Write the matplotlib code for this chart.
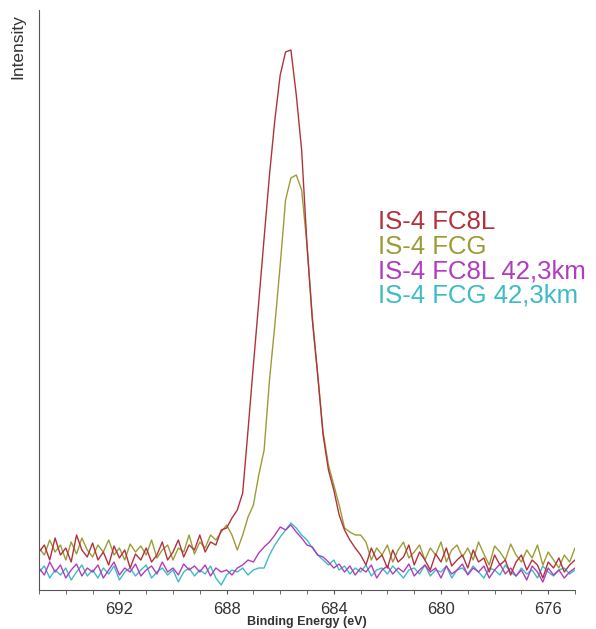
import numpy as np
import matplotlib
matplotlib.use('Agg')
import matplotlib.pyplot as plt
from matplotlib.ticker import MultipleLocator

plt.rcParams['font.family'] = ['Liberation Sans', 'DejaVu Sans']

# binding energy axis, 695 -> 675 eV in 0.2 eV steps (101 points)
energy = np.linspace(695, 675, 101)

# intensities (arbitrary units)
fc8l = [38, 45, 30, 52, 35, 42, 28, 55, 40, 33,
        47, 30, 38, 25, 44, 32, 40, 22, 36, 30,
        42, 28, 35, 48, 30, 38, 50, 33, 45, 40,
        55, 38, 48, 45, 60, 62, 72, 80, 97, 160,
        225, 288, 352, 415, 470, 515, 538, 540, 495, 440,
        345, 270, 215, 155, 120, 100, 75, 60, 50, 42,
        35, 25, 42, 30, 35, 22, 40, 28, 33, 45,
        25, 38, 30, 20, 36, 28, 42, 24, 30, 35,
        22, 40, 28, 32, 18, 35, 25, 30, 15, 28,
        35, 20, 30, 25, 12, 28, 22, 32, 18, 25, 30]

fcg = [42, 35, 50, 38, 45, 30, 48, 36, 52, 40,
       33, 45, 38, 50, 35, 42, 30, 46, 38, 44,
       35, 50, 32, 40, 45, 30, 42, 38, 55, 36,
       48, 42, 55, 50, 58, 65, 55, 40, 55, 73,
       85, 115, 140, 210, 265, 325, 390, 412, 415, 400,
       345, 272, 215, 158, 125, 105, 85, 62, 58, 55,
       55, 48, 30, 42, 35, 45, 28, 40, 48, 32,
       38, 45, 30, 42, 35, 48, 28, 40, 45, 33,
       42, 30, 48, 36, 25, 44, 38, 30, 46, 35,
       28, 40, 32, 45, 25, 38, 30, 22, 35, 28, 42]

fc8l_km = [22, 15, 28, 18, 25, 12, 20, 26, 14, 22,
           18, 25, 12, 20, 28, 15, 22, 18, 26, 14,
           20, 24, 16, 28, 18, 22, 15, 26, 20, 24,
           18, 25, 14, 22, 18, 20, 15, 22, 25, 30,
           28, 37, 43, 48, 55, 63, 60, 65, 58, 52,
           45, 43, 35, 33, 28, 22, 26, 18, 24, 15,
           22, 18, 25, 12, 20, 24, 16, 22, 18, 26,
           14, 20, 25, 18, 22, 12, 24, 16, 20, 26,
           15, 22, 18, 24, 12, 20, 26, 16, 22, 14,
           20, 10, 24, 18, 8, 22, 15, 20, 12, 18, 22]

fcg_km = [18, 24, 12, 20, 15, 22, 10, 18, 25, 14,
          20, 12, 22, 16, 24, 10, 18, 22, 14, 20,
          25, 12, 18, 22, 15, 20, 8, 18, 22, 14,
          20, 16, 24, 12, 5, 15, 20, 18, 22, 15,
          20, 22, 22, 35, 45, 53, 60, 67, 62, 55,
          50, 42, 35, 30, 25, 30, 20, 24, 16, 22,
          18, 25, 14, 20, 22, 16, 24, 18, 12, 20,
          22, 16, 25, 14, 20, 18, 24, 12, 20, 22,
          16, 24, 18, 12, 22, 20, 15, 25, 18, 14,
          22, 16, 20, 12, 24, 18, 14, 20, 22, 16, 20]

names = ['IS-4 FC8L', 'IS-4 FCG', 'IS-4 FC8L 42,3km', 'IS-4 FCG 42,3km']
series = [fc8l, fcg, fc8l_km, fcg_km]
colors = ['#b2323c', '#9c9c36', '#b03cc0', '#3cbcc4']

fig = plt.figure(figsize=(5.96, 6.29), dpi=100)
ax = fig.add_axes([39/596, 39/629, 536/596, 580/629])

# small peaks first, big ones on top
for i in [3, 2, 1, 0]:
    ax.plot(energy, series[i], color=colors[i], linewidth=1.0)

ax.set_xlim(695, 675)
ax.set_ylim(0, 580)
ax.xaxis.set_major_locator(MultipleLocator(4))
ax.xaxis.set_minor_locator(MultipleLocator(1))
ax.set_yticks([])
ax.tick_params(axis='x', which='both', direction='out', length=3, color='#555555',
               labelsize=12, labelcolor='#333333', pad=6)
for s in ['top', 'right']:
    ax.spines[s].set_visible(False)
ax.spines['left'].set_color('#555555')
ax.spines['bottom'].set_color('#555555')

ax.set_xlabel('Binding Energy (eV)', fontsize=9, fontweight='bold', color='#333333', labelpad=-1)
fig.text(18/596, 1 - 14/629, 'Intensity', rotation=90, ha='center', va='top',
         fontsize=12.5, color='#333333')

# legend as coloured text
for k in range(len(names)):
    fig.text(378/596, 1 - (222 + 24.5*k)/629, names[k], color=colors[k],
             fontsize=18.5, ha='left', va='center')

fig.savefig('out.png', dpi=100)
